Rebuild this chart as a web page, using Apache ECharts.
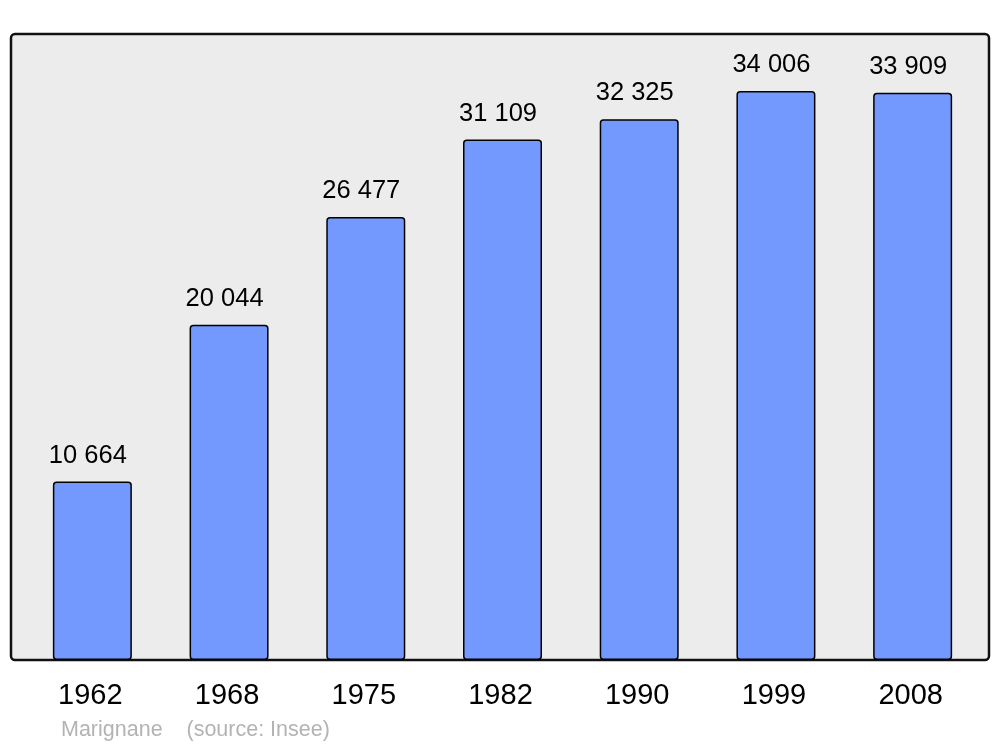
<!DOCTYPE html>
<html><head><meta charset="utf-8">
<script src="https://cdn.jsdelivr.net/npm/echarts@6/dist/echarts.min.js"></script>
<style>html,body{margin:0;padding:0;background:#fff}#c{width:1000px;height:747px}</style>
</head><body><div id="c"></div>
<script>
const years = ['1962','1968','1975','1982','1990','1999','2008'];
const population = [10664, 20044, 26477, 31109, 32325, 34006, 33909];
const footer = 'Marignane    (source: Insee)';

const fmt = v => String(v).replace(/\B(?=(\d{3})+(?!\d))/g, ' ');
const chart = echarts.init(document.getElementById('c'), null, {renderer: 'canvas'});
chart.setOption({
  animation: false,
  backgroundColor: '#ffffff',
  textStyle: {fontFamily: 'Liberation Sans, Arial, sans-serif'},
  graphic: [
    {type: 'rect', z: 0, shape: {x: 11, y: 34, width: 978, height: 626, r: 4},
     style: {fill: '#ececec', stroke: '#111', lineWidth: 2.5}},
    {type: 'text', z: 10, left: 61, top: 719,
     style: {text: footer, fill: '#b3b3b3', font: '21.5px "Liberation Sans", Arial, sans-serif'}}
  ],
  grid: {left: 24, right: 19, top: 34, bottom: 87, containLabel: false},
  xAxis: {
    type: 'category', data: years,
    axisLine: {show: false}, axisTick: {show: false},
    axisLabel: {color: '#000', fontSize: 29, margin: 21, padding: [0, 4, 0, 0],
      fontFamily: 'Liberation Sans, Arial, sans-serif'}
  },
  yAxis: {
    type: 'value', min: 0, max: 37420, show: false,
    splitLine: {show: false}
  },
  series: [{
    type: 'bar', data: population, barWidth: 79, z: 5,
    itemStyle: {color: '#7399ff', borderColor: '#000', borderWidth: 1.5, borderRadius: 3},
    label: {show: true, position: 'top', distance: 13, offset: [-4.5, 0], color: '#000', fontSize: 25.5,
      fontFamily: 'Liberation Sans, Arial, sans-serif',
      formatter: p => fmt(p.value)}
  }]
});
</script></body></html>
